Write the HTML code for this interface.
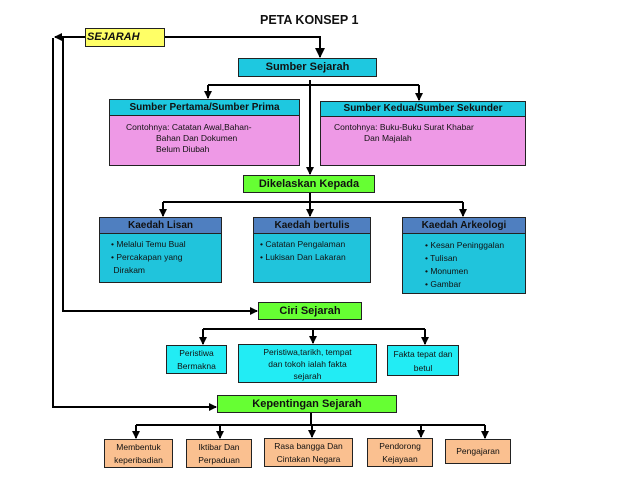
<!DOCTYPE html>
<html><head><meta charset="utf-8">
<style>
*{margin:0;padding:0;box-sizing:border-box}
body{width:638px;height:479px;background:#fff;position:relative;overflow:hidden;font-family:"Liberation Sans",sans-serif;color:#111}
.b{position:absolute;border:1px solid #222;font-size:8.5px;line-height:11px}
.c{text-align:center;font-weight:bold}
.h{font-weight:bold;text-align:center;font-size:10px;border-bottom:1px solid #222}
svg{position:absolute;left:0;top:0}
</style></head><body>
<svg width="638" height="479">
<defs><marker id="a" markerWidth="8" markerHeight="8" refX="7" refY="4" orient="auto" markerUnits="userSpaceOnUse"><path d="M0,0 L8,4 L0,8z" fill="#000"/></marker>
<marker id="A" markerWidth="10" markerHeight="10" refX="9" refY="5" orient="auto" markerUnits="userSpaceOnUse"><path d="M0,0 L10,5 L0,10z" fill="#000"/></marker></defs>
<g stroke="#000" stroke-width="2" fill="none">
<path d="M165,37 H320 V57" marker-end="url(#A)"/>
<path d="M85,37 H55" marker-end="url(#a)"/>
<path d="M53,38 V407 H216" marker-end="url(#a)"/>
<path d="M63,38 V311 H257" marker-end="url(#a)"/>
<path d="M310,80 V174" marker-end="url(#a)"/>
<path d="M208,85 H419"/>
<path d="M208,85 V98" marker-end="url(#a)"/>
<path d="M419,85 V100" marker-end="url(#a)"/>
<path d="M310,193 V202 M163,202 H463"/>
<path d="M163,202 V216" marker-end="url(#a)"/>
<path d="M310,202 V216" marker-end="url(#a)"/>
<path d="M463,202 V216" marker-end="url(#a)"/>
<path d="M203,329 H425"/>
<path d="M203,329 V344" marker-end="url(#a)"/>
<path d="M313,329 V343" marker-end="url(#a)"/>
<path d="M425,329 V344" marker-end="url(#a)"/>
<path d="M136,425 H485 M311,413 V425"/>
<path d="M136,425 V438" marker-end="url(#a)"/>
<path d="M220,425 V438" marker-end="url(#a)"/>
<path d="M312,425 V437" marker-end="url(#a)"/>
<path d="M421,425 V437" marker-end="url(#a)"/>
<path d="M485,425 V438" marker-end="url(#a)"/>
</g></svg>

<div style="position:absolute;left:260px;top:13px;font-weight:bold;font-size:12.5px">PETA KONSEP 1</div>
<div class="b" style="left:85px;top:28px;width:80px;height:19px;background:#ffff66;font-size:11px;font-weight:bold;font-style:italic;line-height:17px;padding-left:1px">SEJARAH</div>
<div class="b c" style="left:238px;top:58px;width:139px;height:19px;background:#1ec8e0;font-size:11px;line-height:17px">Sumber Sejarah</div>

<div class="b" style="left:109px;top:99px;width:191px;height:67px;background:#ee99e6">
<div class="h" style="background:#1ec8e0;height:16px;line-height:15px">Sumber Pertama/Sumber Prima</div>
<div style="padding:6px 0 0 16px">Contohnya: Catatan Awal,Bahan-<br><span style="padding-left:30px">Bahan Dan Dokumen</span><br><span style="padding-left:30px">Belum Diubah</span></div></div>
<div class="b" style="left:320px;top:101px;width:206px;height:65px;background:#ee99e6">
<div class="h" style="background:#1ec8e0;height:15px;line-height:14px">Sumber Kedua/Sumber Sekunder</div>
<div style="padding:5px 0 0 13px">Contohnya: Buku-Buku Surat Khabar<br><span style="padding-left:30px">Dan Majalah</span></div></div>

<div class="b c" style="left:243px;top:175px;width:132px;height:18px;background:#66ff33;font-size:11px;line-height:16px">Dikelaskan Kepada</div>

<div class="b" style="left:99px;top:217px;width:123px;height:66px;background:#20c4dc">
<div class="h" style="background:#4f7fc0;height:16px;line-height:15px">Kaedah Lisan</div>
<div style="padding:4px 0 0 11px;line-height:13px">• Melalui Temu Bual<br>• Percakapan yang<br>&nbsp;Dirakam</div></div>
<div class="b" style="left:253px;top:217px;width:118px;height:66px;background:#20c4dc">
<div class="h" style="background:#4f7fc0;height:16px;line-height:15px">Kaedah bertulis</div>
<div style="padding:4px 0 0 6px;line-height:13px">• Catatan Pengalaman<br>• Lukisan Dan Lakaran</div></div>
<div class="b" style="left:402px;top:217px;width:124px;height:77px;background:#20c4dc">
<div class="h" style="background:#4f7fc0;height:16px;line-height:15px">Kaedah Arkeologi</div>
<div style="padding:5px 0 0 22px;line-height:13px">• Kesan Peninggalan<br>• Tulisan<br>• Monumen<br>• Gambar</div></div>

<div class="b c" style="left:258px;top:302px;width:104px;height:18px;background:#66ff33;font-size:11px;line-height:16px">Ciri Sejarah</div>

<div class="b" style="left:166px;top:345px;width:61px;height:29px;background:#22ecf4;text-align:center;padding-top:1px;line-height:13px">Peristiwa<br>Bermakna</div>
<div class="b" style="left:238px;top:344px;width:139px;height:39px;background:#22ecf4;text-align:center;line-height:12px;padding-top:1px">Peristiwa,tarikh, tempat<br>dan tokoh ialah fakta<br>sejarah</div>
<div class="b" style="left:387px;top:345px;width:72px;height:31px;background:#22ecf4;text-align:center;line-height:14px;padding-top:1px">Fakta tepat dan<br>betul</div>

<div class="b c" style="left:217px;top:395px;width:180px;height:18px;background:#66ff33;font-size:11px;line-height:16px">Kepentingan Sejarah</div>

<div class="b" style="left:104px;top:439px;width:69px;height:29px;background:#fac090;text-align:center;line-height:13px;padding-top:1px">Membentuk<br>keperibadian</div>
<div class="b" style="left:186px;top:439px;width:66px;height:29px;background:#fac090;text-align:center;line-height:13px;padding-top:1px">Iktibar Dan<br>Perpaduan</div>
<div class="b" style="left:264px;top:438px;width:89px;height:29px;background:#fac090;text-align:center;line-height:13px;padding-top:1px">Rasa bangga Dan<br>Cintakan Negara</div>
<div class="b" style="left:367px;top:438px;width:66px;height:29px;background:#fac090;text-align:center;line-height:13px;padding-top:1px">Pendorong<br>Kejayaan</div>
<div class="b" style="left:445px;top:439px;width:66px;height:25px;background:#fac090;text-align:center;line-height:23px">Pengajaran</div>
</body></html>
